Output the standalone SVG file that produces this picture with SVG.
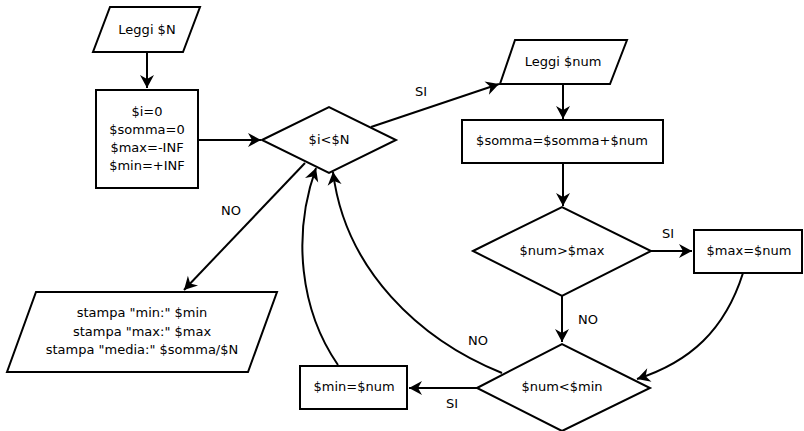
<svg xmlns="http://www.w3.org/2000/svg" width="804" height="431" viewBox="0 0 804 431">
<style>
.s{fill:#fff;stroke:#000;stroke-width:2}
.c{fill:none;stroke:#000;stroke-width:2}
text{font-family:"DejaVu Sans","Liberation Sans",sans-serif;font-size:13px;fill:#000;text-anchor:middle}
</style>
<defs>
<marker id="a" viewBox="-14 -8 16 16" markerWidth="16" markerHeight="16" refX="0" refY="0" orient="auto" markerUnits="userSpaceOnUse">
<path d="M0,0 L-13,-7 L-9,0 L-13,7 z" fill="#000"/>
</marker>
</defs>
<g id="connectors">
<path class="c" d="M147,52 L147,88" marker-end="url(#a)"/>
<path class="c" d="M198,140 L261,140" marker-end="url(#a)"/>
<path class="c" d="M371,127 L499,84" marker-end="url(#a)"/>
<path class="c" d="M563,84 L563,119" marker-end="url(#a)"/>
<path class="c" d="M563,163 L563,206" marker-end="url(#a)"/>
<path class="c" d="M651,251 L692,251" marker-end="url(#a)"/>
<path class="c" d="M562,296 L562,342" marker-end="url(#a)"/>
<path class="c" d="M743,273 C725,330 690,362 637,379" marker-end="url(#a)"/>
<path class="c" d="M477,388 L409,388" marker-end="url(#a)"/>
<path class="c" d="M502,373 C420,340 345,270 333,172" marker-end="url(#a)"/>
<path class="c" d="M338,365 C300,310 292,235 316,168" marker-end="url(#a)"/>
<path class="c" d="M305,163 L184,290" marker-end="url(#a)"/>
<text x="421" y="96">SI</text>
<text x="668" y="238">SI</text>
<text x="588" y="324">NO</text>
<text x="478" y="345">NO</text>
<text x="452" y="408">SI</text>
<text x="231" y="215">NO</text>
</g>
<g id="n1"><path class="s" d="M110,7 L200,7 L183,52 L93,52 z"/><text x="147" y="34">Leggi $N</text></g>
<g id="n2"><rect class="s" x="96" y="90" width="102" height="98"/>
<text x="147" y="116">$i=0</text><text x="147" y="134">$somma=0</text><text x="147" y="152">$max=-INF</text><text x="147" y="170">$min=+INF</text></g>
<g id="n3"><path class="s" d="M262,140 L329,107 L396,140 L329,173 z"/><text x="329" y="144">$i&lt;$N</text></g>
<g id="n4"><path class="s" d="M515,40 L627,40 L610,84 L500,84 z"/><text x="563" y="66">Leggi $num</text></g>
<g id="n5"><rect class="s" x="462" y="120" width="201" height="43"/><text x="562" y="145">$somma=$somma+$num</text></g>
<g id="n6"><path class="s" d="M473,251 L562,207 L651,251 L562,296 z"/><text x="562" y="255">$num&gt;$max</text></g>
<g id="n7"><rect class="s" x="694" y="230" width="108" height="43"/><text x="749" y="255">$max=$num</text></g>
<g id="n8"><path class="s" d="M477,388 L562,344 L650,388 L562,431 z"/><text x="562" y="391">$num&lt;$min</text></g>
<g id="n9"><rect class="s" x="300" y="366" width="107" height="43"/><text x="354" y="391">$min=$num</text></g>
<g id="n10"><path class="s" d="M36,292 L277,292 L248,372 L7,372 z"/>
<text x="142" y="317">stampa "min:" $min</text><text x="142" y="336">stampa "max:" $max</text><text x="142" y="354">stampa "media:" $somma/$N</text></g>
</svg>
